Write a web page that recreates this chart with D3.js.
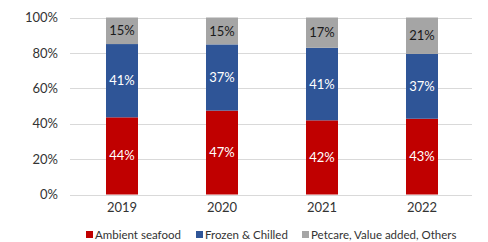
<!DOCTYPE html>
<html>
<head>
<meta charset="utf-8">
<script src="https://cdn.jsdelivr.net/npm/d3@7"></script>
<style>
  body { margin: 0; background: #fff; }
  text { font-family: Lato, "Noto Sans", sans-serif; }
</style>
</head>
<body>
<div id="chart"></div>
<script>
// data (shares in %)
var years = ["2019", "2020", "2021", "2022"];
var seriesNames = ["Ambient seafood", "Frozen & Chilled", "Petcare, Value added, Others"];
var ambient = [43.6, 47.4, 41.9, 42.8];
var frozen = [41.4, 37.4, 41.0, 36.6];
var others = [15.0, 15.2, 17.1, 20.6];
var yTicks = [0, 20, 40, 60, 80, 100];

var colors = ["#C00000", "#2F5597", "#A5A5A5"];
var labelColors = ["#fff", "#fff", "#1a1a1a"];

var width = 488, height = 242;

var svg = d3.select("#chart").append("svg")
  .attr("width", width)
  .attr("height", height);

var xScale = d3.scaleBand().domain(years).range([72, 472]).paddingInner(0.68).paddingOuter(0.34);
var yScale = d3.scaleLinear().domain([0, 100]).range([194.5, 17.5]);

// gridlines
svg.append("g").selectAll("line").data(yTicks).enter().append("line")
  .attr("x1", 70).attr("x2", 472)
  .attr("y1", function(d) { return Math.round(yScale(d)) + 0.5; })
  .attr("y2", function(d) { return Math.round(yScale(d)) + 0.5; })
  .attr("stroke", "#D9D9D9")
  .attr("stroke-width", 1);

// y axis labels
var yAxis = d3.axisLeft(yScale).tickValues(yTicks).tickSize(0).tickPadding(0)
  .tickFormat(function(d) { return d + "%"; });
var gy = svg.append("g").attr("transform", "translate(58,0)").call(yAxis);
gy.select(".domain").remove();
gy.selectAll("text").attr("font-size", 13).attr("fill", "#333").style("font-family", "Lato, 'Noto Sans', sans-serif");

// x axis labels
var xAxis = d3.axisBottom(xScale).tickSize(0).tickPadding(0);
var gx = svg.append("g").attr("transform", "translate(0,203)").call(xAxis);
gx.select(".domain").remove();
gx.selectAll("text").attr("font-size", 13).attr("fill", "#333").style("font-family", "Lato, 'Noto Sans', sans-serif");

// stacked bars
var rows = years.map(function(y, i) {
  return { year: y, s0: ambient[i], s1: frozen[i], s2: others[i] };
});
var stack = d3.stack().keys(["s0", "s1", "s2"]);
var layers = stack(rows);

var groups = svg.append("g").selectAll("g").data(layers).enter().append("g")
  .attr("fill", function(d, i) { return colors[i]; });

groups.selectAll("rect").data(function(d) { return d; }).enter().append("rect")
  .attr("x", function(d) { return xScale(d.data.year); })
  .attr("width", xScale.bandwidth())
  .attr("y", function(d) { return yScale(d[1]); })
  .attr("height", function(d) { return yScale(d[0]) - yScale(d[1]); });

// data labels
layers.forEach(function(layer, li) {
  svg.append("g").selectAll("text").data(layer).enter().append("text")
    .attr("x", function(d) { return xScale(d.data.year) + xScale.bandwidth() / 2; })
    .attr("y", function(d) { return (yScale(d[0]) + yScale(d[1])) / 2; })
    .attr("dy", "0.35em")
    .attr("text-anchor", "middle")
    .attr("font-size", 13)
    .attr("fill", labelColors[li])
    .text(function(d) { return Math.round(d[1] - d[0]) + "%"; });
});

// legend
var legendX = [86, 196, 302];
var legend = svg.append("g").selectAll("g").data(seriesNames).enter().append("g")
  .attr("transform", function(d, i) { return "translate(" + legendX[i] + ",235)"; });
legend.append("rect")
  .attr("x", 0).attr("y", -4).attr("width", 7).attr("height", 7)
  .attr("fill", function(d, i) { return colors[i]; });
legend.append("text")
  .attr("x", 9).attr("y", 0).attr("dy", "0.35em")
  .attr("font-size", 11.5)
  .attr("fill", "#333")
  .text(function(d) { return d; });
</script>
</body>
</html>
